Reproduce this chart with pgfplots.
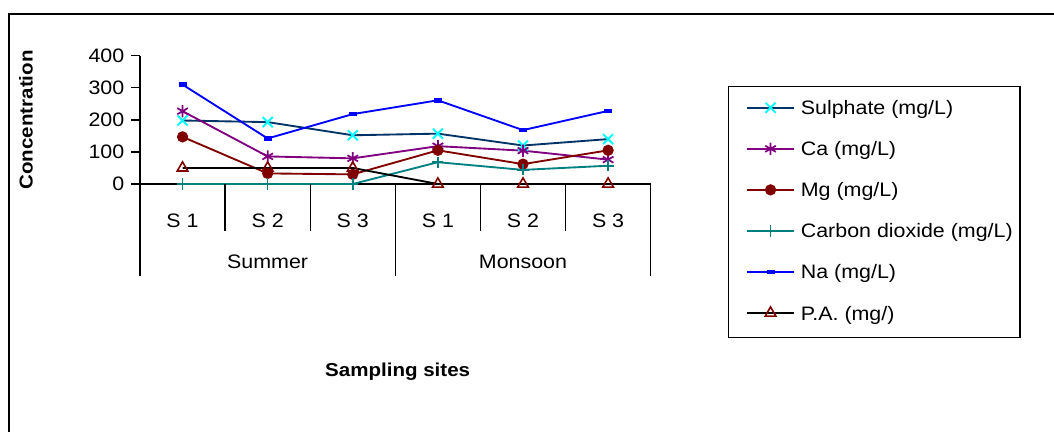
\documentclass[border=0pt]{standalone}
\usepackage{fontspec}
\setmainfont{Liberation Sans}[FakeStretch=1.1]
\usepackage{pgfplots}
\usepackage{pgfplotstable}
\pgfplotsset{compat=1.18}

\definecolor{sulphline}{HTML}{003366}
\definecolor{sulphmark}{HTML}{00FFFF}
\definecolor{caclr}{HTML}{800080}
\definecolor{mgclr}{HTML}{800000}
\definecolor{coclr}{HTML}{008080}
\definecolor{naclr}{HTML}{0000FF}

% sites 0-2: Summer S1-S3, sites 3-5: Monsoon S1-S3
\pgfplotstableread{
site Sulphate Ca  Mg  CO2 Na  PA
0    198      227 147 0   310 50
1    193      86  33  0   142 50
2    152      80  30  0   218 50
3    157      118 105 68  261 0
4    120      104 62  44  168 0
5    140      76  105 57  228 0
}\datatable

\begin{document}
\fontsize{14.6pt}{17.5pt}\selectfont
\begin{tikzpicture}
\useasboundingbox (0,0) rectangle (790.5pt,324pt);
% outer chart frame
\draw[line width=1.5pt] (6.75pt,0pt) -- (6.75pt,313.3pt) -- (790.5pt,313.3pt);
\begin{axis}[
  at={(105pt,186pt)}, anchor=south west,
  scale only axis, width=383pt, height=96.2pt,
  xmin=-0.5, xmax=5.5, ymin=0, ymax=400,
  axis lines=left,
  axis line style={-, line width=1pt, black},
  clip=false,
  xtick={0,...,5},
  xticklabels={S 1,S 2,S 3,S 1,S 2,S 3},
  xtick style={draw=none},
  xticklabel style={anchor=center, yshift=-24.5pt},
  ytick={0,100,200,300,400},
  ytick align=outside,
  major tick length=6.75pt,
  ytick style={line width=1pt, black},
  /pgf/number format/assume math mode=true,
  yticklabel style={anchor=east},
  ylabel={Concentration},
  ylabel style={at={(axis description cs:-0.2232,0.5)}, anchor=center,
    font=\fontsize{14pt}{17pt}\selectfont\bfseries},
  xlabel={Sampling sites},
  xlabel style={at={(axis description cs:0.5046,-1.463)}, anchor=center,
    font=\fontsize{14pt}{17pt}\selectfont\bfseries},
  legend style={draw=none, fill=none,
    at={(axis description cs:1.1866,0.6703)}, anchor=north west,
    inner sep=0pt, outer sep=0pt, row sep=16.25pt, column sep=4.3pt,
    nodes={inner sep=0pt, text height=12.5pt, text depth=2.05pt}},
  legend cell align=left,
  legend image code/.code={
    \draw[mark repeat=2, mark phase=2, #1]
      plot coordinates {(0pt,0pt) (17.75pt,0pt) (35.5pt,0pt)};},
]
\addplot[color=sulphline, line width=1.4pt, mark=x, mark size=5.3pt,
  mark options={color=sulphmark, line width=1.4pt}]
  table[x=site, y=Sulphate] {\datatable};
\addlegendentry{Sulphate (mg/L)}
\addplot[color=caclr, line width=1.4pt, mark=asterisk, mark size=4.6pt,
  mark options={line width=1.3pt}]
  table[x=site, y=Ca] {\datatable};
\addlegendentry{Ca (mg/L)}
\addplot[color=mgclr, line width=1.4pt, mark=*, mark size=3.5pt]
  table[x=site, y=Mg] {\datatable};
\addlegendentry{Mg (mg/L)}
\addplot[color=coclr, line width=1.4pt, mark=+, mark size=4.2pt,
  mark options={line width=1.2pt}]
  table[x=site, y=CO2] {\datatable};
\addlegendentry{Carbon dioxide (mg/L)}
\addplot[color=naclr, line width=1.4pt, mark=square*, mark size=2.3pt,
  mark options={yscale=0.42}]
  table[x=site, y=Na] {\datatable};
\addlegendentry{Na (mg/L)}
\addplot[color=black, line width=1.4pt, mark=triangle, mark size=4.6pt,
  mark options={draw=mgclr, fill=white, line width=1.2pt}]
  table[x=site, y=PA] {\datatable};
\addlegendentry{P.A. (mg/)}

% category table lines below the x axis
\draw[line width=1pt] (axis cs:0.5,0) -- ++(0pt,-35.25pt);
\draw[line width=1pt] (axis cs:1.5,0) -- ++(0pt,-35.25pt);
\draw[line width=1pt] (axis cs:3.5,0) -- ++(0pt,-35.25pt);
\draw[line width=1pt] (axis cs:4.5,0) -- ++(0pt,-35.25pt);
\draw[line width=1pt] (axis cs:-0.5,0) -- ++(0pt,-68.8pt);
\draw[line width=1pt] (axis cs:2.5,0) -- ++(0pt,-68.8pt);
\draw[line width=1pt] (axis cs:5.5,0) -- ++(0pt,-68.8pt);
\node[anchor=center] at ([yshift=-58.4pt]axis cs:1,0) {Summer};
\node[anchor=center] at ([yshift=-58.4pt]axis cs:4,0) {Monsoon};

% legend frame
\draw[line width=1pt] (axis description cs:1.1519,0.7584)
  rectangle (axis description cs:1.7231,-1.198);
\end{axis}
\end{tikzpicture}
\end{document}
